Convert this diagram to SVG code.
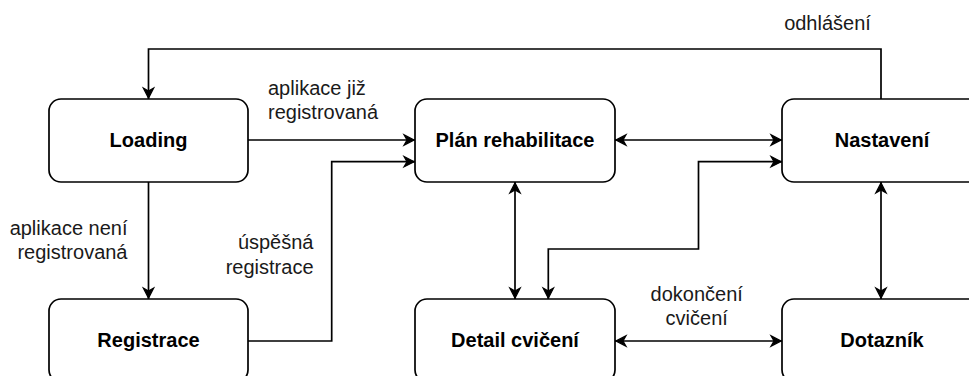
<svg xmlns="http://www.w3.org/2000/svg" width="969" height="376" viewBox="0 0 969 376">
  <style>
    .box { fill: #ffffff; stroke: #000000; stroke-width: 1.7; }
    .name { font-family: "Liberation Sans", Arial, Helvetica, sans-serif; font-size: 20px; font-weight: bold; fill: #000000; text-anchor: middle; }
    .lbl { font-family: "Liberation Sans", Arial, Helvetica, sans-serif; font-size: 20px; fill: #1a1a1a; }
    .edge { fill: none; stroke: #000000; stroke-width: 1.7; }
    .one { marker-end: url(#head); }
    .both { marker-start: url(#head); marker-end: url(#head); }
  </style>
  <defs>
    <marker id="head" viewBox="-13 -7 14 14" refX="0" refY="0" markerWidth="14" markerHeight="14" markerUnits="userSpaceOnUse" orient="auto-start-reverse" overflow="visible">
      <path d="M-0.8,0 L-11,-5.2 L-8,0 L-11,5.2 Z" fill="#000000" stroke="#000000" stroke-width="1.2" stroke-linejoin="miter"/>
    </marker>
  </defs>

  <rect width="969" height="376" fill="#ffffff"/>

  <!-- transitions -->
  <g id="connectors">
    <path class="edge one" d="M881,99 V49 H148.5 V99"/>
    <path class="edge one" d="M148.5,182 V299"/>
    <path class="edge one" d="M248,140 H415"/>
    <path class="edge one" d="M248,341 H331.7 V161.7 H415"/>
    <path class="edge both" d="M615,140 H782"/>
    <path class="edge both" d="M548.3,299 V249 H698.5 V161.7 H782"/>
    <path class="edge both" d="M515,182 V299"/>
    <path class="edge both" d="M881,182 V299"/>
    <path class="edge both" d="M615,341 H782"/>
  </g>

  <!-- transition labels -->
  <g id="edge-labels">
    <text class="lbl" x="827.5" y="29.5" text-anchor="middle">odhlášení</text>
    <text class="lbl" x="268" y="95">aplikace již</text>
    <text class="lbl" x="268" y="119.3">registrovaná</text>
    <text class="lbl" x="127.5" y="235" text-anchor="end">aplikace není</text>
    <text class="lbl" x="127.5" y="259.3" text-anchor="end">registrovaná</text>
    <text class="lbl" x="313.5" y="249" text-anchor="end">úspěšná</text>
    <text class="lbl" x="313.5" y="273.5" text-anchor="end">registrace</text>
    <text class="lbl" x="696.7" y="300.7" text-anchor="middle">dokončení</text>
    <text class="lbl" x="696.7" y="325" text-anchor="middle">cvičení</text>
  </g>

  <!-- screens -->
  <g id="loading">
    <rect class="box" x="49" y="99" width="199" height="83" rx="12"/>
    <text class="name" x="148.5" y="147">Loading</text>
  </g>
  <g id="plan-rehabilitace">
    <rect class="box" x="415" y="99" width="200" height="83" rx="12"/>
    <text class="name" x="515" y="147">Plán rehabilitace</text>
  </g>
  <g id="nastaveni">
    <rect class="box" x="782" y="99" width="200" height="83" rx="12"/>
    <text class="name" x="882" y="147">Nastavení</text>
  </g>
  <g id="registrace">
    <rect class="box" x="49" y="299" width="199" height="83" rx="12"/>
    <text class="name" x="148.5" y="347">Registrace</text>
  </g>
  <g id="detail-cviceni">
    <rect class="box" x="415" y="299" width="200" height="83" rx="12"/>
    <text class="name" x="515" y="347">Detail cvičení</text>
  </g>
  <g id="dotaznik">
    <rect class="box" x="782" y="299" width="200" height="83" rx="12"/>
    <text class="name" x="882" y="347">Dotazník</text>
  </g>
</svg>
